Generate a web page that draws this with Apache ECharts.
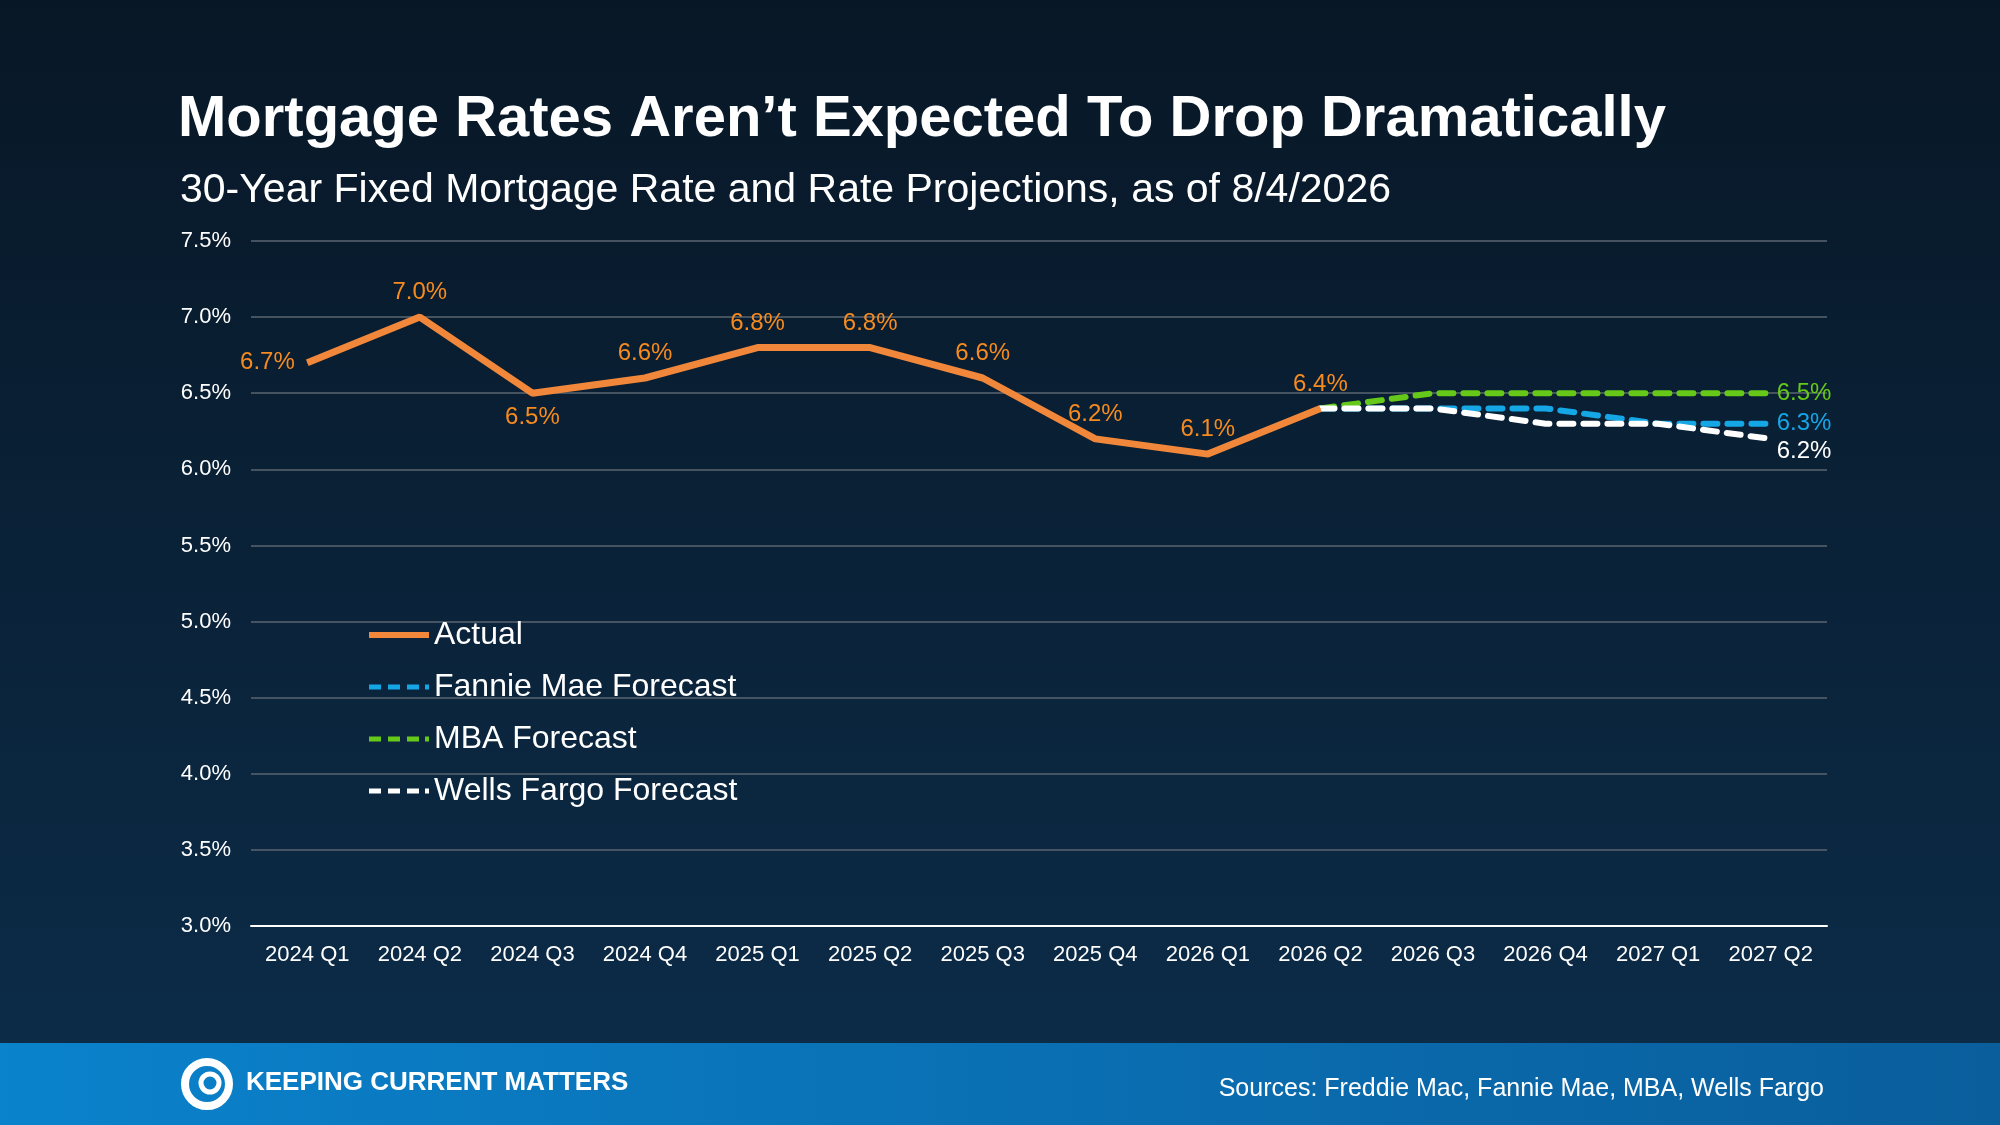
<!DOCTYPE html>
<html><head><meta charset="utf-8">
<script src="https://cdn.jsdelivr.net/npm/echarts@6/dist/echarts.min.js"></script>
<style>html,body{margin:0;padding:0;width:2000px;height:1125px;overflow:hidden}#c{width:2000px;height:1125px}</style>
</head><body><div id="c"></div>
<script>
const categories=['2024 Q1','2024 Q2','2024 Q3','2024 Q4','2025 Q1','2025 Q2','2025 Q3','2025 Q4','2026 Q1','2026 Q2','2026 Q3','2026 Q4','2027 Q1','2027 Q2'];
const actual=[6.7,7.0,6.5,6.6,6.8,6.8,6.6,6.2,6.1,6.4,null,null,null,null];
const fannie=[null,null,null,null,null,null,null,null,null,6.4,6.4,6.4,6.3,6.3];
const mba=[null,null,null,null,null,null,null,null,null,6.4,6.5,6.5,6.5,6.5];
const wells=[null,null,null,null,null,null,null,null,null,6.4,6.4,6.3,6.3,6.2];
const yTicks=['3.0%','3.5%','4.0%','4.5%','5.0%','5.5%','6.0%','6.5%','7.0%','7.5%'];
const labelPos=['left','top','bottom','top','top','top','top','top','top','top'];
const F='Liberation Sans, Arial, sans-serif';
const chart=echarts.init(document.getElementById('c'));
const actualData=actual.map((v,i)=>v==null?null:{value:v,label:{show:true,position:labelPos[i]}});
const dashIcon='path://M0,0h12v5h-12z M19,0h12v5h-12z M38,0h12v5h-12z M56,0h4v5h-4z';
function fc(name,data,color,dy){return {name,type:'line',data,symbol:'none',z:name==='Wells Fargo Forecast'?4:3,
 lineStyle:{color,width:6,type:[14,10],cap:'round'},itemStyle:{color},
 endLabel:{show:true,color,fontSize:24,fontFamily:F,distance:6,offset:[0,dy],formatter:p=>p.value.toFixed(1)+'%'}};}
chart.setOption({
 backgroundColor:{type:'linear',x:0,y:0,x2:0,y2:1,colorStops:[{offset:0,color:'#081726'},{offset:1,color:'#0c2d4a'}]},
 title:[{text:'Mortgage Rates Aren’t Expected To Drop Dramatically',left:173,top:86,textStyle:{color:'#fff',fontSize:58,fontWeight:'bold',fontFamily:F}},
  {text:'30-Year Fixed Mortgage Rate and Rate Projections, as of 8/4/2026',left:175,top:165,textStyle:{color:'#fff',fontSize:41,fontWeight:'normal',fontFamily:F}}],
 graphic:[
  {type:'rect',shape:{x:0,y:1043,width:2000,height:82},style:{fill:{type:'linear',x:0,y:0,x2:1,y2:0,colorStops:[{offset:0,color:'#0a82cc'},{offset:1,color:'#0a5e9c'}]}}},
  {type:'circle',shape:{cx:207,cy:1084,r:22},style:{fill:'none',stroke:'#fff',lineWidth:8}},
  {type:'circle',shape:{cx:210,cy:1083,r:9},style:{fill:'none',stroke:'#fff',lineWidth:5}},
  {type:'text',left:246,top:1070,style:{text:'KEEPING CURRENT MATTERS',fill:'#fff',font:'bold 26px '+F}},
  {type:'text',right:176,top:1077,style:{text:'Sources: Freddie Mac, Fannie Mae, MBA, Wells Fargo',fill:'#fff',font:'25px '+F}}
 ],
 legend:{orient:'vertical',left:364,top:614,itemGap:20,itemWidth:60,itemHeight:6,
  textStyle:{color:'#fff',fontSize:32,fontFamily:F},
  data:[{name:'Actual',icon:'rect'},{name:'Fannie Mae Forecast',icon:dashIcon},{name:'MBA Forecast',icon:dashIcon},{name:'Wells Fargo Forecast',icon:dashIcon}]},
 grid:{left:251,right:173,top:241,bottom:199},
 xAxis:{type:'category',data:categories,boundaryGap:true,axisLine:{lineStyle:{color:'#fff',width:2}},axisTick:{show:false},
  axisLabel:{color:'#fff',fontSize:22,fontFamily:F,margin:18,interval:0}},
 yAxis:{type:'value',min:3,max:7.5,interval:0.5,axisLine:{show:false},axisTick:{show:false},
  splitLine:{lineStyle:{color:'#5a6470',width:1.5}},
  axisLabel:{color:'#fff',fontSize:22,fontFamily:F,margin:20,formatter:(v)=>yTicks[Math.round((v-3)/0.5)]}},
 series:[
  {name:'Actual',type:'line',data:actualData,symbol:'circle',symbolSize:1,showSymbol:true,z:5,lineStyle:{color:'#f0873a',width:7},itemStyle:{color:'#f0873a'},
   label:{color:'#f68b1f',fontSize:24,fontFamily:F,distance:12,formatter:p=>p.value.toFixed(1)+'%'}},
  fc('Fannie Mae Forecast',fannie,'#15a6e6',0),
  fc('MBA Forecast',mba,'#66c91a',0),
  fc('Wells Fargo Forecast',wells,'#ffffff',12)
 ]
});
</script></body></html>
